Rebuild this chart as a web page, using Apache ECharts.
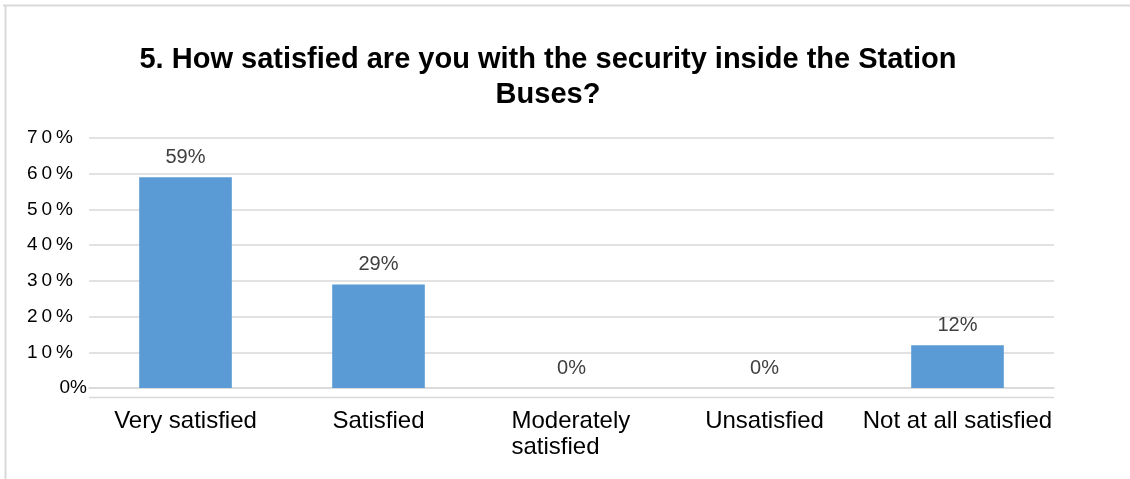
<!DOCTYPE html>
<html>
<head>
<meta charset="utf-8">
<script src="https://cdn.jsdelivr.net/npm/echarts@6/dist/echarts.min.js"></script>
<style>
  html, body { margin: 0; padding: 0; background: #fff; }
  #chart { width: 1130px; height: 479px; }
</style>
</head>
<body>
<div id="chart"></div>
<script>
// Survey answers and the share of respondents for each
const categories = ['Very satisfied', 'Satisfied', 'Moderately\nsatisfied', 'Unsatisfied', 'Not at all satisfied'];
const shares = [59, 29, 0, 0, 12];
const yTicks = [0, 10, 20, 30, 40, 50, 60, 70];

const titleText = '5. How satisfied are you with the security inside the Station\nBuses?';

const chart = echarts.init(document.getElementById('chart'), null, { renderer: 'canvas' });

const gridColor = '#d9d9d9';
const font = 'Liberation Sans, Arial, sans-serif';

// spaced-out tick labels: one rich token per character
function spacedLabel(v) {
  const s = v + '%';
  if (v === 0) return '{z|' + s + '}';
  return s.split('').map(function (ch, i, arr) {
    return (i === arr.length - 1 ? '{e|' : '{c|') + ch + '}';
  }).join('');
}

chart.setOption({
  animation: false,
  backgroundColor: '#ffffff',
  textStyle: { fontFamily: font },
  title: {
    text: titleText,
    left: 543,
    textAlign: 'center',
    top: 37,
    textStyle: {
      fontFamily: font,
      fontSize: 29,
      fontWeight: 'bold',
      color: '#000000',
      lineHeight: 35
    }
  },
  graphic: [
    { type: 'line', shape: { x1: 3, y1: 5.5, x2: 1130, y2: 5.5 }, style: { stroke: gridColor, lineWidth: 2 }, silent: true },
    { type: 'line', shape: { x1: 5.5, y1: 5, x2: 5.5, y2: 479 }, style: { stroke: gridColor, lineWidth: 2 }, silent: true },
    { type: 'line', shape: { x1: 89, y1: 397.5, x2: 1054, y2: 397.5 }, style: { stroke: gridColor, lineWidth: 1.5 }, silent: true }
  ],
  grid: { left: 89, right: 76, top: 138, bottom: 91, containLabel: false },
  xAxis: {
    type: 'category',
    data: categories,
    axisLine: { show: true, lineStyle: { color: gridColor, width: 1.5 } },
    axisTick: { show: false },
    axisLabel: {
      interval: 0,
      margin: 20,
      fontSize: 24,
      color: '#000000',
      lineHeight: 26,
      formatter: function (v) {
        if (v.indexOf('\n') >= 0) {
          return v.split('\n').map(function (s) { return '{m|' + s + '}'; }).join('\n');
        }
        return v;
      },
      rich: {
        m: { width: 120, align: 'left', fontSize: 24, lineHeight: 26, color: '#000000' }
      }
    }
  },
  yAxis: {
    type: 'value',
    min: yTicks[0],
    max: yTicks[yTicks.length - 1],
    interval: 10,
    axisLine: { show: false },
    axisTick: { show: false },
    splitLine: { lineStyle: { color: gridColor, width: 1.5 } },
    axisLabel: {
      margin: 2,
      color: '#000000',
      formatter: spacedLabel,
      rich: {
        c: { fontSize: 19, color: '#000000', padding: [0, 4, 0, 0] },
        e: { fontSize: 19, color: '#000000', padding: [0, 14, 0, 0] },
        z: { fontSize: 19, color: '#000000' }
      }
    }
  },
  series: [{
    type: 'bar',
    data: shares,
    barWidth: '48%',
    itemStyle: { color: '#5b9bd5' },
    label: {
      show: true,
      position: 'top',
      distance: 10,
      fontSize: 20,
      color: '#404040',
      formatter: function (p) { return p.value + '%'; }
    }
  }]
});
</script>
</body>
</html>
